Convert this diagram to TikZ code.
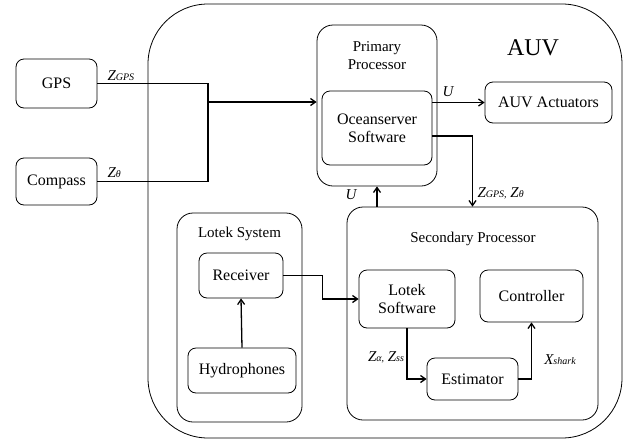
\documentclass[tikz,border=0pt]{standalone}
\usepackage{fontspec}
\setmainfont{Liberation Serif}
\usetikzlibrary{arrows.meta,calc}

\tikzset{
  blk/.style={draw, rounded corners=8pt, align=center, inner sep=0pt, line width=0.8pt, font=\fontsize{16}{18}\selectfont},
  grp/.style={draw, rounded corners=16pt, inner sep=0pt, line width=0.8pt},
  ttl/.style={align=center, font=\fontsize{15}{18}\selectfont},
  sig/.style={font=\fontsize{15}{18}\selectfont\itshape},
  flow/.style={line width=1.3pt, -{Straight Barb[length=5pt,width=7pt]}},
  wire/.style={line width=1.3pt}
}
\newcommand{\lbl}[2]{#1{\fontsize{10}{12}\selectfont #2}}

\begin{document}
\begin{tikzpicture}[x=1pt,y=-1pt]
        \useasboundingbox (0,0) rectangle (624,440);

        % AUV hull
        \draw[line width=0.8pt, rounded corners=60pt] (148,4) rectangle (622,438);
        \node[font=\fontsize{24}{28}\selectfont] (auv) at (533,48) {AUV};

        % sensors outside
        \node[blk, minimum width=81, minimum height=49] (gps) at (56.5,83.5) {GPS};
        \node[blk, minimum width=81, minimum height=47] (cmp) at (56.5,181.5) {Compass};

        % primary processor
        \node[grp, minimum width=120, minimum height=161] (prim) at (377,105.5) {};
        \node[ttl] (primt) at (377,56) {Primary\\Processor};
        \node[blk, minimum width=110, minimum height=74] (osw) at (377,128) {Oceanserver\\Software};
        \node[blk, minimum width=127, minimum height=41] (act) at (548.5,102.5) {AUV Actuators};

        % secondary processor
        \node[grp, minimum width=251, minimum height=213] (sec) at (472.5,313.5) {};
        \node[ttl] (sect) at (473,239) {Secondary Processor};
        \node[blk, minimum width=96, minimum height=58] (lsw) at (407,299) {Lotek\\Software};
        \node[blk, minimum width=103, minimum height=52] (ctl) at (531.5,296) {Controller};
        \node[blk, minimum width=91, minimum height=42] (est) at (472.5,379) {Estimator};

        % lotek system
        \node[grp, minimum width=125, minimum height=209] (lsys) at (239.5,317.5) {};
        \node[ttl] (lsyst) at (239.5,234) {Lotek System};
        \node[blk, minimum width=84, minimum height=45] (rec) at (241,275.5) {Receiver};
        \node[blk, minimum width=108, minimum height=45] (hyd) at (242,370.5) {Hydrophones};

        % sensor lines
        \coordinate (join) at (208,102);
        \draw[wire] (gps.east) -| (join);
        \draw[wire] (cmp.east) -| (join);
        \draw[flow] (join) -- (join -| prim.west);
        \node[sig, anchor=south west] (zgps) at (104,84) {\lbl{Z}{GPS}};
        \node[sig, anchor=south west] (zth) at (104,181) {\lbl{Z}{θ}};

        % primary links
        \draw[flow] (osw.east |- act.west) -- (act.west);
        \node[sig] (u1) at (448,92) {U};
        \draw[flow] ($(osw.east)+(0,8)$) -| (sec.north);
        \node[sig, anchor=west] (zboth) at (474,193) {\lbl{Z}{GPS,} \lbl{Z}{θ}};
        \draw[flow] (sec.north -| prim.south) -- (prim.south);
        \node[sig] (u2) at (351,195) {U};

        % lotek links
        \draw[flow] (hyd.north) -- (rec.south);
        \draw[flow] (rec.east) -- ++(39,0) |- (lsw.west);

        % secondary links
        \draw[flow] (lsw.south) |- (est.west);
        \node[sig] (zass) at (386,357) {\lbl{Z}{α,} \lbl{Z}{ss}};
        \draw[flow] (est.east) -| (ctl.south);
        \node[sig] (xsh) at (560,360) {\lbl{X}{shark}};
\end{tikzpicture}
\end{document}
